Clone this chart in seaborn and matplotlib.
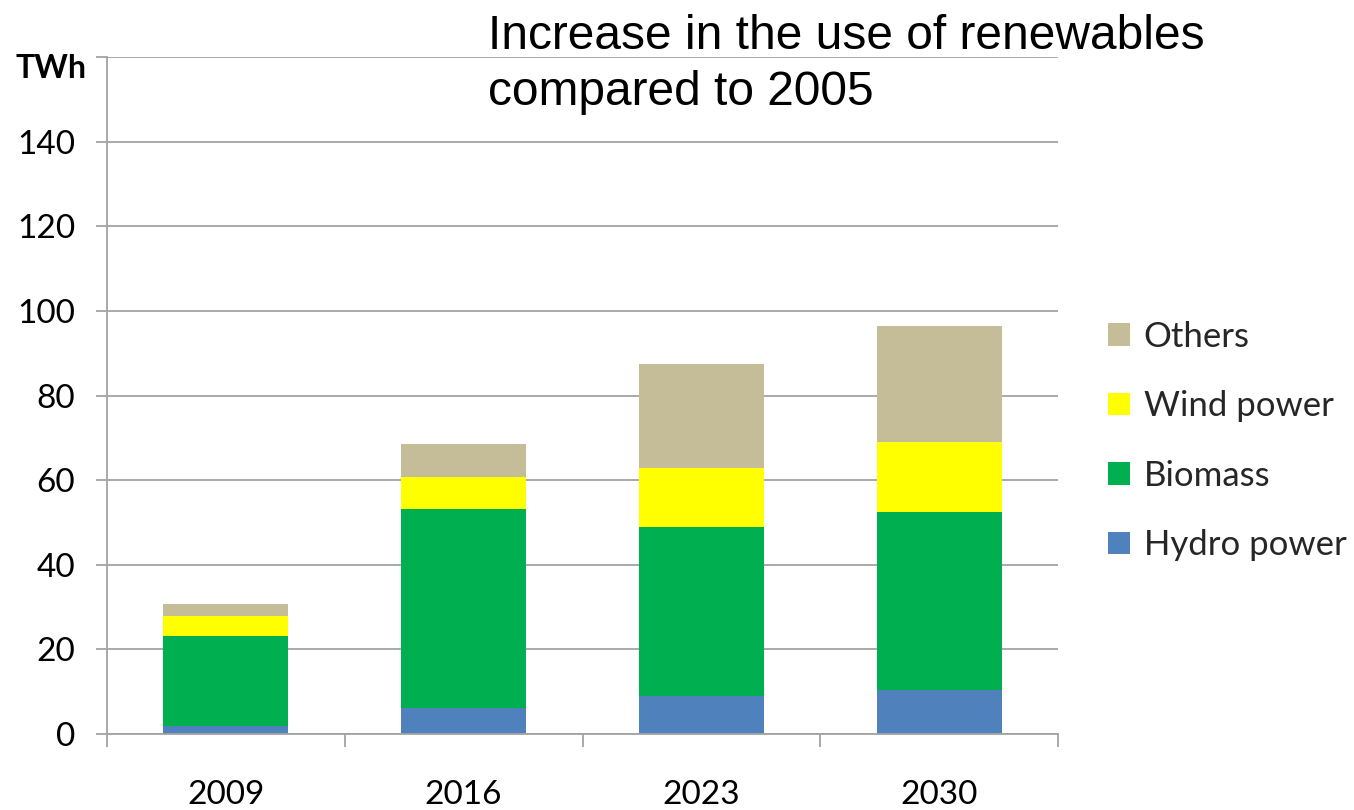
import matplotlib
matplotlib.use("Agg")
import matplotlib.pyplot as plt
import seaborn as sns
import pandas as pd

years = ["2009", "2016", "2023", "2030"]
sources = ["Others", "Wind power", "Biomass", "Hydro power"]
hydro = [2.0, 6.1, 8.9, 10.3]
biomass = [21.1, 47.0, 40.0, 42.1]
wind = [4.7, 7.6, 14.0, 16.6]
others = [2.9, 7.8, 24.6, 27.4]
ytick_values = [0, 20, 40, 60, 80, 100, 120, 140, 160]
ytick_labels = ["0", "20", "40", "60", "80", "100", "120", "140", ""]
colors = {"Others": "#C4BD97", "Wind power": "#FFFF00",
          "Biomass": "#00B050", "Hydro power": "#4F81BD"}

values = {"Others": others, "Wind power": wind, "Biomass": biomass, "Hydro power": hydro}
rows = []
for s in sources:
    for y, v in zip(years, values[s]):
        rows.append({"Year": y, "Source": s, "TWh": v})
df = pd.DataFrame(rows)
df["Year"] = pd.Categorical(df["Year"], categories=years, ordered=True)

sns.set_theme(style="white")
plt.rcParams['font.family'] = ['Lato', 'DejaVu Sans']

W, H = 1354, 810
fig = plt.figure(figsize=(W / 100, H / 100), dpi=100)
ax = fig.add_axes([107 / W, 1 - 734 / H, (1058 - 107) / W, (734 - 57) / H])

sns.histplot(data=df, x="Year", weights="TWh", hue="Source", hue_order=sources,
             multiple="stack", discrete=True, shrink=0.525, palette=colors,
             alpha=1, linewidth=0, ax=ax)

gray = "#A3A3A3"
ax.set_xlim(-0.5, 3.5)
ax.set_ylim(0, 160)
ax.set_yticks(ytick_values)
ax.set_yticklabels(ytick_labels)
ax.set_xticks(range(len(years)))
ax.set_xticklabels(years)
ax.set_xticks([-0.5, 0.5, 1.5, 2.5, 3.5], minor=True)
ax.set_xlabel("")
ax.set_ylabel("")
ax.yaxis.grid(True, color=gray, linewidth=1.3)
ax.xaxis.grid(False)
ax.set_axisbelow(True)
for side in ["top", "right"]:
    ax.spines[side].set_visible(False)
for side in ["left", "bottom"]:
    ax.spines[side].set_color(gray)
    ax.spines[side].set_linewidth(1.3)

ax.tick_params(axis="y", which="major", left=True, length=8, width=1.3, color=gray,
               pad=15, labelsize=24, labelcolor="black")
ax.tick_params(axis="x", which="major", bottom=True, length=0, pad=33,
               labelsize=24, labelcolor="black")
ax.tick_params(axis="x", which="minor", bottom=True, length=9, width=1.3, color=gray)

fig.text(16 / W, 1 - 68 / H, "TWh", fontsize=23, fontweight="bold",
         ha="left", va="center", color="black")

fig.text(488 / W, 1 - 14 / H, "Increase in the use of renewables\ncompared to 2005",
         fontsize=34.5, ha="left", va="top", color="black",
         family=["Liberation Sans", "DejaVu Sans"], linespacing=1.32)

sns.move_legend(ax, "center left", bbox_to_anchor=(1108 / W, 1 - 441 / H),
                bbox_transform=fig.transFigure, frameon=False, title=None,
                fontsize=25, handlelength=0.63, handleheight=0.63,
                handletextpad=0.4, labelspacing=1.08, borderpad=0, borderaxespad=0)

fig.savefig("out.png", dpi=100)
